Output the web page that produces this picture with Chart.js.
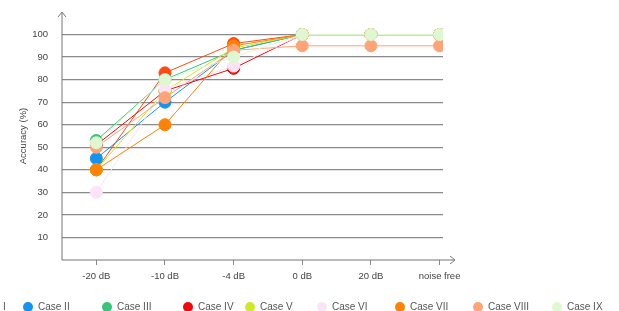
<!DOCTYPE html>
<html>
<head>
<meta charset="utf-8">
<script src="https://cdn.jsdelivr.net/npm/chart.js@4.4.1/dist/chart.umd.min.js"></script>
<style>
  body { margin: 0; background: #fff; }
  #wrap { position: relative; width: 619px; height: 311px; overflow: hidden; }
  #legend { position: absolute; left: 0; top: 301px; height: 11px; width: 619px; font: 10px "Liberation Sans", Arial, sans-serif; color: #555; }
  .item { position: absolute; top: 0; white-space: nowrap; }
  .dot { position: absolute; top: 1px; width: 10px; height: 10px; border-radius: 50%; }
  .lbl { position: absolute; left: 15px; top: 0; }
</style>
</head>
<body>
<div id="wrap">
  <canvas id="myChart" width="619" height="311"></canvas>
  <div id="legend"></div>
</div>
<script>
const categories = ["-20 dB", "-10 dB", "-4 dB", "0 dB", "20 dB", "noise free"];
const yTicks = [10, 20, 30, 40, 50, 60, 70, 80, 90, 100];

const caseNames = ["Case I", "Case II", "Case III", "Case IV", "Case V", "Case VI", "Case VII", "Case VIII", "Case IX"];
const caseColors = ["#ff4a14", "#1493f0", "#38c47a", "#ee0a0a", "#d2e62c", "#fbe4f8", "#ff8206", "#ffa476", "#def8d2"];

const case1 = [40, 83, 96, 100, 100, 100];
const case2 = [45, 70, 93, 100, 100, 100];
const case3 = [53, 80, 93, 100, 100, 100];
const case4 = [51, 75, 85, 100, 100, 100];
const case5 = [40, 75, 94, 100, 100, 100];
const case6 = [30, 76, 86, 100, 100, 100];
const case7 = [40, 60, 95, 100, 100, 100];
const case8 = [50, 72, 93, 95, 95, 95];
const case9 = [52, 80, 90, 100, 100, 100];
const allCases = [case1, case2, case3, case4, case5, case6, case7, case8, case9];

// legend circle x positions
const legendX = [-38, 23, 102, 183, 245, 317, 395, 473, 552];

const datasets = allCases.map((vals, i) => ({
  label: caseNames[i],
  data: vals.map((v, j) => ({ x: j, y: v })),
  borderColor: caseColors[i],
  backgroundColor: caseColors[i],
  pointBackgroundColor: caseColors[i],
  pointBorderColor: caseColors[i],
  pointRadius: 6,
  pointBorderWidth: 1,
  borderWidth: 1,
  order: allCases.length - i,
}));

const arrowAxes = {
  id: "arrowAxes",
  afterDraw(chart) {
    const c = chart.ctx;
    const a = chart.chartArea;
    c.save();
    c.strokeStyle = "#777";
    c.lineWidth = 1;
    c.beginPath();
    c.moveTo(a.left, a.bottom);
    c.lineTo(a.right + 12, a.bottom);
    c.moveTo(a.right + 7, a.bottom - 4);
    c.lineTo(a.right + 12, a.bottom);
    c.lineTo(a.right + 7, a.bottom + 4);
    c.moveTo(a.left, a.bottom);
    c.lineTo(a.left, a.top);
    c.moveTo(a.left - 4, a.top + 5);
    c.lineTo(a.left, a.top);
    c.lineTo(a.left + 4, a.top + 5);
    c.stroke();
    c.restore();
  },
};

const ctx = document.getElementById("myChart");

new Chart(ctx, {
  type: "line",
  data: { datasets: datasets },
  plugins: [arrowAxes],
  options: {
    responsive: false,
    animation: false,
    layout: { padding: { top: 12, right: 176, left: 0, bottom: 0 } },
    plugins: { legend: { display: false }, tooltip: { enabled: false } },
    scales: {
      x: {
        type: "linear",
        min: -0.5,
        max: 5.05,
        afterBuildTicks: (s) => { s.ticks = categories.map((c, i) => ({ value: i })); },
        afterFit: (s) => { s.height = 51; s.paddingLeft = 0; s.paddingRight = 0; },
        border: { display: false },
        grid: { drawOnChartArea: false, drawTicks: true, tickLength: 5, color: "#888" },
        ticks: {
          callback: (v) => categories[v],
          color: "#444",
          padding: 6,
          maxRotation: 0,
          font: { family: "Liberation Sans", size: 9.5 },
        },
      },
      y: {
        min: 0,
        max: 110,
        afterBuildTicks: (s) => { s.ticks = [0].concat(yTicks, [110]).map((v) => ({ value: v })); },
        afterFit: (s) => { s.width = 62; s.paddingTop = 0; s.paddingBottom = 0; },
        border: { display: false },
        grid: {
          drawTicks: false,
          color: (c) => (yTicks.includes(c.tick.value) ? "#8a8a8a" : "rgba(0,0,0,0)"),
          lineWidth: 1.2,
        },
        ticks: {
          callback: (v) => (yTicks.includes(v) ? v : ""),
          color: "#444",
          padding: 14,
          font: { family: "Liberation Sans", size: 9.5 },
        },
        title: {
          display: true,
          text: "Accuracy (%)",
          color: "#444",
          padding: { top: 18, bottom: 0 },
          font: { family: "Liberation Sans", size: 9.5 },
        },
      },
    },
  },
});

/* legend */
const legendDiv = document.getElementById("legend");
caseNames.forEach((name, i) => {
  const item = document.createElement("div");
  item.className = "item";
  item.style.left = legendX[i] + "px";
  item.innerHTML = `<span class="dot" style="background:${caseColors[i]}"></span><span class="lbl">${name}</span>`;
  legendDiv.appendChild(item);
});
</script>
</body>
</html>
